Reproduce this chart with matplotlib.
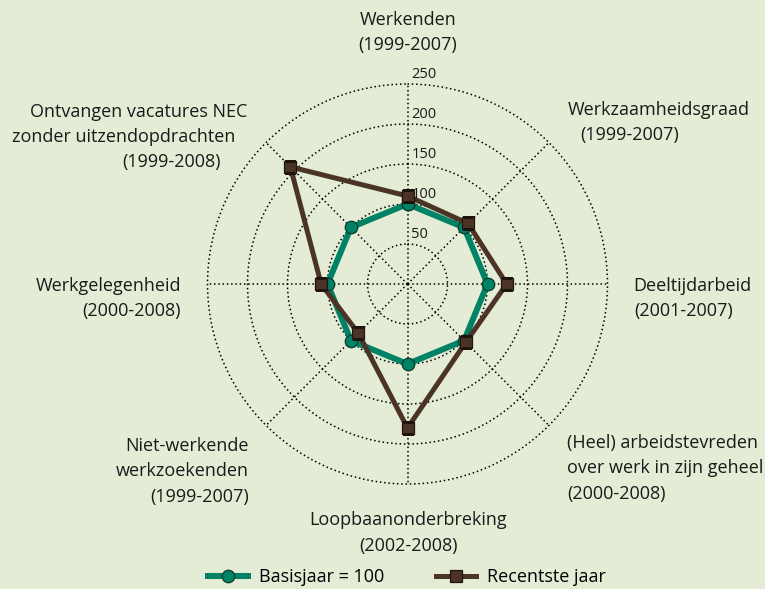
import numpy as np
import matplotlib
matplotlib.use("Agg")
import matplotlib.pyplot as plt
from matplotlib.lines import Line2D
from matplotlib.transforms import offset_copy

# ---- data ----
categories = ["Werkenden", "Werkzaamheidsgraad", "Deeltijdarbeid",
              "(Heel) arbeidstevreden", "Loopbaanonderbreking",
              "Niet-werkende werkzoekenden", "Werkgelegenheid",
              "Ontvangen vacatures NEC"]
basisjaar = [100, 100, 100, 100, 100, 100, 100, 100]
recentste = [110, 107, 124, 103, 180, 87, 108, 207]
ring_ticks = [50, 100, 150, 200, 250]
series_names = ["Basisjaar = 100", "Recentste jaar"]

BG = "#e4ecd6"
GREEN = "#008264"
BROWN = "#4b3426"
FONT = "Open Sans"
plt.rcParams["font.family"] = [FONT, "DejaVu Sans"]

W, H = 765, 589
fig = plt.figure(figsize=(W / 100, H / 100), dpi=100, facecolor=BG)

RMAX = 256
cx, cy, R = 407.5, 284.0, 200.0 * RMAX / 250
ax = fig.add_axes([(cx - R) / W, (H - cy - R) / H, 2 * R / W, 2 * R / H],
                  projection="polar", facecolor="none")
ax.set_theta_zero_location("N")
ax.set_theta_direction(-1)
ax.set_ylim(0, RMAX)

n = len(categories)
theta = np.arange(n) * 2 * np.pi / n
ax.set_xticks(theta)
ax.set_xticklabels([])
ax.set_yticks(ring_ticks)
ax.set_yticklabels([])
ax.grid(True, color="black", linestyle=(0, (1.0, 1.8)), linewidth=1.1)
ax.spines["polar"].set_visible(False)
ax.tick_params(length=0)
# radial spokes stop at the outer ring
for gl in ax.xaxis.get_gridlines():
    gl.set_visible(False)
for th in theta:
    ax.plot([th, th], [0, ring_ticks[-1]], color="black",
            linestyle=(0, (1.0, 1.8)), lw=1.1, zorder=1)

tc = np.concatenate([theta, theta[:1]])
ax.plot(tc, basisjaar + basisjaar[:1], color=GREEN, lw=4.3, zorder=3,
        marker="o", ms=9, mfc=GREEN, mec="#0b3b2e", mew=0.9)
ax.plot(tc, recentste + recentste[:1], color=BROWN, lw=3.6, zorder=4,
        marker="s", ms=9, mfc=BROWN, mec="#1e140e", mew=0.9)

# ring labels
tr = offset_copy(ax.transData, fig=fig, x=4, y=9, units="dots")
for v in ring_ticks:
    ax.text(0, v, str(v), transform=tr, ha="left", va="center",
            fontsize=10.5, color="#1a1a1a", zorder=5)

def t(x, y, s, ha="left"):
    fig.text(x / W, 1 - y / H, s, ha=ha, va="center", fontsize=13,
             color="#1a1a1a")

t(408, 20, "Werkenden", "center")
t(408, 45, "(1999-2007)", "center")
t(568, 110, "Werkzaamheidsgraad")
t(580, 135, "(1999-2007)")
t(633, 286, "Deeltijdarbeid")
t(634, 311, "(2001-2007)")
t(567, 443, "(Heel) arbeidstevreden")
t(567, 468, "over werk in zijn geheel")
t(567, 494, "(2000-2008)")
t(408, 520, "Loopbaanonderbreking", "center")
t(408, 546, "(2002-2008)", "center")
t(249, 446, "Niet-werkende", "right")
t(249, 471, "werkzoekenden", "right")
t(249, 497, "(1999-2007)", "right")
t(181, 286, "Werkgelegenheid", "right")
t(181, 311, "(2000-2008)", "right")
t(247, 112, "Ontvangen vacatures NEC", "right")
t(235, 137, "zonder uitzendopdrachten", "right")
t(221, 162, "(1999-2008)", "right")

handles = [
    Line2D([], [], color=GREEN, lw=4.3, marker="o", ms=9, mfc=GREEN,
           mec="#0b3b2e", mew=0.9),
    Line2D([], [], color=BROWN, lw=3.6, marker="s", ms=9, mfc=BROWN,
           mec="#1e140e", mew=0.9),
]
fig.legend(handles, series_names, loc="center", ncol=2,
           bbox_to_anchor=(407 / W, 1 - 577 / H), frameon=False,
           fontsize=13, handlelength=2.2, columnspacing=2.9,
           handletextpad=0.6, borderpad=0)

fig.savefig("out.png", dpi=100, facecolor=BG)
